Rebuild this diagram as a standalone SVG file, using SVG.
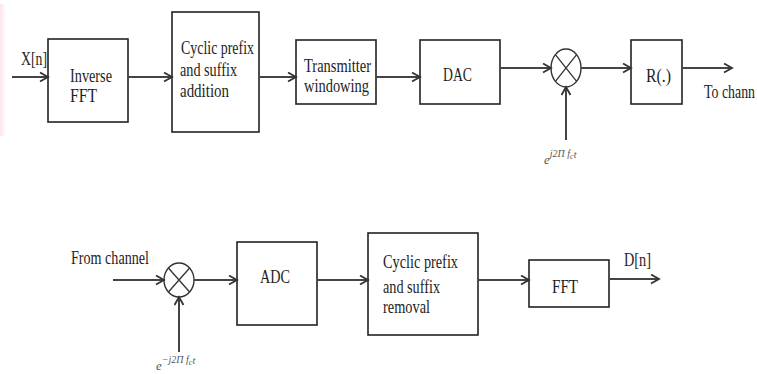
<svg xmlns="http://www.w3.org/2000/svg" width="757" height="374" viewBox="0 0 757 374">
  <style>
    .box { fill: #ffffff; stroke: #222222; stroke-width: 1.6; }
    .mix { fill: #ffffff; stroke: #333333; stroke-width: 1.4; }
    .wire { fill: none; stroke: #444444; stroke-width: 2; marker-end: url(#chev); }
    .lbl { font-family: "Liberation Serif", "Times New Roman", serif; font-size: 18px; fill: #1e1e1e; }
    .osc { font-family: "Liberation Serif", "Times New Roman", serif; font-style: italic; fill: #555555; }
  </style>
  <defs>
    <marker id="chev" markerUnits="userSpaceOnUse" markerWidth="12" markerHeight="12" refX="9" refY="5" orient="auto">
      <path d="M1,0.5 L9,5 L1,9.5" fill="none" stroke="#333333" stroke-width="1.8"/>
    </marker>
    <linearGradient id="tint" x1="0" y1="0" x2="1" y2="0">
      <stop offset="0" stop-color="#fde4e9"/>
      <stop offset="1" stop-color="#ffffff"/>
    </linearGradient>
  </defs>

  <rect width="757" height="374" fill="#ffffff"/>
  <!-- faint tint along the left border -->
  <rect x="0" y="4" width="6" height="132" fill="url(#tint)"/>

  <!-- transmitter chain -->
  <g id="ifft">
    <rect class="box" x="48" y="39" width="80" height="83"/>
    <text class="lbl" x="70" y="82" textLength="42" lengthAdjust="spacingAndGlyphs">Inverse</text>
    <text class="lbl" x="70" y="102" textLength="27" lengthAdjust="spacingAndGlyphs">FFT</text>
  </g>
  <g id="cp-add">
    <rect class="box" x="172" y="12" width="87" height="120"/>
    <text class="lbl" x="181" y="54" textLength="73" lengthAdjust="spacingAndGlyphs">Cyclic prefix</text>
    <text class="lbl" x="180" y="76" textLength="57" lengthAdjust="spacingAndGlyphs">and suffix</text>
    <text class="lbl" x="180" y="97" textLength="49" lengthAdjust="spacingAndGlyphs">addition</text>
  </g>
  <g id="tx-window">
    <rect class="box" x="296" y="40" width="80" height="64"/>
    <text class="lbl" x="304" y="72" textLength="67" lengthAdjust="spacingAndGlyphs">Transmitter</text>
    <text class="lbl" x="304" y="92" textLength="65" lengthAdjust="spacingAndGlyphs">windowing</text>
  </g>
  <g id="dac">
    <rect class="box" x="420" y="40" width="80" height="64"/>
    <text class="lbl" x="443" y="81" textLength="29" lengthAdjust="spacingAndGlyphs">DAC</text>
  </g>
  <g id="tx-mixer">
    <ellipse class="mix" cx="566" cy="68" rx="15" ry="19"/>
    <path d="M555.4,54.6 L576.6,81.4 M576.6,54.6 L555.4,81.4" stroke="#333333" stroke-width="1.3"/>
    <text class="osc" x="544" y="164" font-size="13">e<tspan font-size="10" dy="-7">j2Π f</tspan><tspan font-size="8" dy="2">c</tspan><tspan font-size="10" dy="-1">t</tspan></text>
  </g>
  <g id="limiter">
    <rect class="box" x="631" y="40" width="51" height="64"/>
    <text class="lbl" x="646" y="82" textLength="25" lengthAdjust="spacingAndGlyphs">R(.)</text>
  </g>
  <text class="lbl" x="704" y="98" textLength="51" lengthAdjust="spacingAndGlyphs">To chann</text>
  <text class="lbl" x="21" y="65" textLength="26" lengthAdjust="spacingAndGlyphs">X[n]</text>

  <!-- receiver chain -->
  <text class="lbl" x="71" y="264" textLength="78" lengthAdjust="spacingAndGlyphs">From channel</text>
  <g id="rx-mixer">
    <ellipse class="mix" cx="179" cy="280" rx="15" ry="17"/>
    <path d="M168.4,268 L189.6,292 M189.6,268 L168.4,292" stroke="#333333" stroke-width="1.3"/>
    <text class="osc" x="156" y="370" font-size="13">e<tspan font-size="10" dy="-7">−j2Π f</tspan><tspan font-size="8" dy="2">c</tspan><tspan font-size="10" dy="-1">t</tspan></text>
  </g>
  <g id="adc">
    <rect class="box" x="237" y="242" width="80" height="83"/>
    <text class="lbl" x="260" y="283" textLength="30" lengthAdjust="spacingAndGlyphs">ADC</text>
  </g>
  <g id="cp-remove">
    <rect class="box" x="368" y="233" width="110" height="102"/>
    <text class="lbl" x="383" y="268" textLength="75" lengthAdjust="spacingAndGlyphs">Cyclic prefix</text>
    <text class="lbl" x="383" y="293" textLength="57" lengthAdjust="spacingAndGlyphs">and suffix</text>
    <text class="lbl" x="383" y="313" textLength="47" lengthAdjust="spacingAndGlyphs">removal</text>
  </g>
  <g id="fft">
    <rect class="box" x="529" y="260" width="80" height="47"/>
    <text class="lbl" x="552" y="293" textLength="26" lengthAdjust="spacingAndGlyphs">FFT</text>
  </g>
  <text class="lbl" x="624" y="266" textLength="27" lengthAdjust="spacingAndGlyphs">D[n]</text>

  <!-- connectors -->
  <g id="connectors">
    <path class="wire" d="M12,77 L48,77"/>
    <path class="wire" d="M128,77 L172,77"/>
    <path class="wire" d="M259,77 L296,77"/>
    <path class="wire" d="M376,77 L420,77"/>
    <path class="wire" d="M500,68 L551,68"/>
    <path class="wire" d="M581,68 L631,68"/>
    <path class="wire" d="M682,68 L732,68"/>
    <path class="wire" d="M566,140 L566,87"/>

    <path class="wire" d="M113,280 L164,280"/>
    <path class="wire" d="M194,280 L237,280"/>
    <path class="wire" d="M317,280 L368,280"/>
    <path class="wire" d="M478,280 L529,280"/>
    <path class="wire" d="M609,279 L659,279"/>
    <path class="wire" d="M179,352 L179,297"/>
  </g>
</svg>
